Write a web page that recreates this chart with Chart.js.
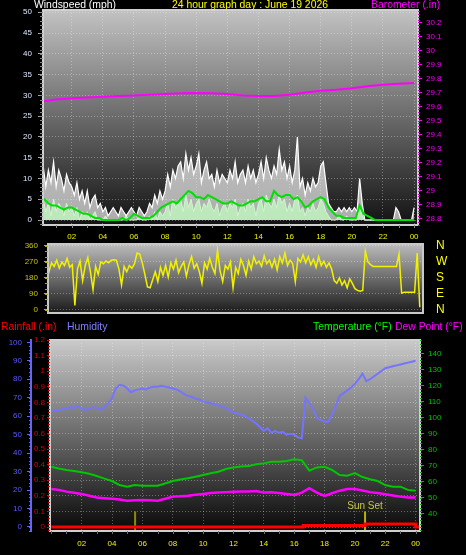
<!DOCTYPE html>
<html>
<head>
<meta charset="utf-8">
<script src="https://cdn.jsdelivr.net/npm/chart.js@4.4.1/dist/chart.umd.min.js"></script>
<style>
    body { margin: 0; background: #000; width: 466px; height: 555px; overflow: hidden; position: relative; font-family: "Liberation Sans", Arial, sans-serif; }
    canvas { position: absolute; left: 0; }
    .hdr { position: absolute; font-size: 10.4px; line-height: 12px; white-space: nowrap; z-index: 2; }
</style>
</head>
<body>
<canvas id="windChart" width="466" height="241" style="top:0"></canvas>
<canvas id="dirChart" width="466" height="80" style="top:240px"></canvas>
<canvas id="climateChart" width="466" height="235" style="top:320px"></canvas>

<div class="hdr" style="left:34px;top:-1px;color:#ffffff">Windspeed (mph)</div>
<div class="hdr" style="left:172px;top:-1px;color:#ffff00">24 hour graph day : June 19 2026</div>
<div class="hdr" style="left:371px;top:-1px;color:#ff00ff">Barometer (.in)</div>
<div class="hdr" style="left:1px;top:321px;color:#ff0000">Rainfall (.in)</div>
<div class="hdr" style="left:67px;top:321px;color:#8080ff">Humidity</div>
<div class="hdr" style="left:313px;top:321px;color:#00ff00">Temperature (°F)</div>
<div class="hdr" style="left:395px;top:321px;color:#ff00ff">Dew Point (°F)</div>

<script>
// tick values
const hourTicks = [2, 4, 6, 8, 10, 12, 14, 16, 18, 20, 22, 24];
const windTicks = [0, 5, 10, 15, 20, 25, 30, 35, 40, 45, 50];
const baroTicks = [28.8, 28.9, 29, 29.1, 29.2, 29.3, 29.4, 29.5, 29.6, 29.7, 29.8, 29.9, 30, 30.1, 30.2];
const dirTicks = [0, 90, 180, 270, 360];
const compassLabels = ["N", "E", "S", "W", "N"];
const humTicks = [0, 10, 20, 30, 40, 50, 60, 70, 80, 90, 100];
const rainTicks = [0, 0.1, 0.2, 0.3, 0.4, 0.5, 0.6, 0.7, 0.8, 0.9, 1, 1.1, 1.2];
const tempTicks = [40, 50, 60, 70, 80, 90, 100, 110, 120, 130, 140];

// wind gust (mph), every 10 minutes from 00:00
const windGust = [
    11, 13, 8, 12, 9, 14,   8, 12, 10, 7, 11, 9,   8, 6, 9, 5, 7, 4,   7, 3, 5, 6, 3, 4,
    2, 3, 1, 2, 3, 2,   1, 3, 2, 1, 2, 3,   2, 1, 3, 2, 1, 2,   4, 3, 6, 4, 7, 5,
    7, 11, 8, 12, 10, 13,   14, 10, 16, 12, 15, 11,   13, 16, 9, 12, 14, 10,   11, 8, 12, 9, 11, 10,
    9, 12, 10, 14, 9, 11,   12, 9, 13, 10, 12, 9,   11, 14, 10, 15, 12, 10,   13, 11, 17, 12, 14, 10,
    13, 9, 12, 20, 8, 10,   6, 9, 7, 10, 8, 9,   13, 14, 9, 4, 3, 2,   2, 3, 2, 3, 2, 3,
    2, 3, 2, 10, 4, 0,   0, 0, 0, 0, 0, 0,   0, 0, 0, 0, 0, 3,   2, 0, 0, 0, 0, 0,
    3
];
// wind speed (mph), every 10 minutes
const windSpeed = [
    3, 5, 2, 4, 1, 5,   2, 4, 3, 1, 4, 2,   3, 1, 3, 0, 2, 1,   2, 0, 1, 2, 0, 0,
    0, 1, 0, 0, 0, 0,   0, 0, 0, 1, 0, 0,   0, 0, 1, 0, 0, 0,   1, 0, 2, 0, 2, 1,
    2, 4, 1, 5, 3, 4,   5, 2, 6, 3, 5, 2,   4, 5, 2, 4, 3, 5,   3, 2, 4, 1, 3, 4,
    2, 4, 3, 5, 1, 3,   4, 2, 5, 3, 4, 1,   4, 5, 2, 6, 4, 3,   5, 3, 6, 4, 5, 2,
    4, 2, 5, 6, 2, 3,   1, 3, 2, 4, 2, 3,   5, 4, 2, 1, 0, 0,   0, 1, 0, 0, 1, 0,
    0, 0, 0, 3, 1, 0,   0, 0, 0, 0, 0, 0,   0, 0, 0, 0, 0, 0,   0, 0, 0, 0, 0, 0,
    0
];
// average wind (mph), every 15 minutes
const windAvg = [
    4.5, 5, 4, 3.5,   3.5, 3, 2.5, 3,   3, 2.5, 2, 1.5,   1.5, 1, 0.5, 0.5,
    0, 0, 0, 0,   0, 0.5, 0, 0.5,   1.5, 1, 0.5, 0.5,   0.5, 1, 2, 3,
    3.5, 4, 4.5, 4,   5, 6, 7, 6.5,   5.5, 5.5, 5, 6,   5.5, 5, 4.5, 4,
    4, 4.5, 4, 3.5,   3.5, 4, 4.5, 4.5,   5, 5.5, 4.5, 4.5,   7, 6, 5.5, 6,
    6, 5, 5.5, 4.5,   3, 3.5, 4.5, 5,   5.5, 5, 3, 2,   1, 1, 0.5, 0.5,
    0.5, 0.5, 3.5, 1.5,   1, 0.5, 0, 0,   0, 0, 0, 0,   0, 0, 0, 0,
    0
];
// barometer (in), hourly
const barometer = [
    29.635, 29.65, 29.66, 29.665, 29.67, 29.675, 29.68, 29.685, 29.69, 29.695, 29.697, 29.695,
    29.69, 29.68, 29.675, 29.675, 29.685, 29.7, 29.713, 29.72, 29.73, 29.745, 29.755, 29.762, 29.768
];
// wind direction (degrees), every 10 minutes
const windDir = [
    240, 225, 250, 215, 265, 245,   280, 235, 270, 250, 290, 240,   255, 25, 230, 275, 165, 250,
    295, 215, 115, 245, 200, 270,   260, 275, 265, 280, 282, 280,   230, 140, 245, 215, 250, 235,
    260, 320, 315, 265, 200, 130,   125, 170, 215, 160, 240, 195,   250, 185, 265, 230, 280, 210,
    245, 270, 190, 255, 300, 235,   260, 215, 150, 265, 230, 290,   240, 205, 335, 220, 160, 250,
    230, 270, 125, 240, 205, 285,   250, 195, 275, 230, 300, 260,   275, 245, 305, 260, 280, 240,
    285, 225, 300, 265, 320, 250,   280, 260, 160, 290, 270, 310,   265, 300, 255, 285, 240, 300,
    250, 275, 240, 265, 230, 165,   150, 180, 140, 165, 125, 175,   150, 120, 110, 105, 110, 330,
    270, 255, 245, 245, 245, 245,   245, 245, 245, 245, 245, 245,   315, 95, 100, 100, 100, 100,
    100, 320, 15
];
// humidity (%), every 15 minutes
const humidity = [
    63, 63.5, 63, 64,   64, 65, 64.5, 65.5,   64, 63.5, 64, 65,   64.5, 63.5, 65, 67,
    70, 75, 77, 76.5,   75, 73, 74, 74.5,   75, 74.5, 75.5, 76,   76, 76.5, 76, 75.5,
    75, 74.5, 73.5, 72,   71, 70.5, 69.5, 69,   68, 67.5, 67, 66.5,   66, 65, 64.5, 63,
    62, 61.5, 61, 60,   59, 57.5, 56, 54,   52, 53.5, 51, 52,   51, 51.5, 50, 50.5,
    50, 48.5, 48, 70,   67, 64, 59, 58,   57, 57, 61, 66,   71, 72.5, 74, 75.5,
    77.5, 80, 83, 79,   80, 81.5, 83, 84.5,   86, 86.5, 87, 87.5,   88, 88.5, 89, 89.5,
    90
];
// temperature and dew point (°F), every 30 minutes
const temperature = [
    69.4, 68.3, 67.4, 66.8, 66, 65, 63.6, 62, 60.5, 58, 57, 58, 57.6, 57.5, 57.6, 59,
    60.5, 61.5, 62.2, 63.2, 64.2, 65.3, 66.3, 68, 69, 69.5, 69.8, 71, 71.5, 72.5, 72.5, 73,
    74, 73.5, 67, 69, 69.4, 67.4, 64.2, 63.8, 65.5, 63, 61.6, 60.5, 58, 57, 57, 55, 54.5
];
const dewPoint = [
    55.5, 55, 53.9, 53.2, 52.5, 51.3, 50.2, 49.8, 49.5, 49, 48.3, 48.5, 48.7, 48.5, 48.3, 49.5,
    50.8, 51, 51.4, 52, 52.5, 53, 53.3, 53.6, 53.9, 54, 54, 54.3, 53.3, 53.5, 53, 52.5,
    51.9, 53.3, 56, 53.3, 51.2, 53, 54.5, 55.5, 55.5, 54.6, 53.6, 53, 52.3, 51.5, 50.8, 50.2, 50.2
];
// rainfall total (in) from each time on
const rainHours = [0, 16.6, 20.67, 24.0, 24.3];
const rainTotals = [0, 0.01, 0.02, 0, 0];

const sunriseHour = 5.52;
const sunsetHour = 20.67;

Chart.defaults.font.family = '"Liberation Sans", Arial, sans-serif';
Chart.defaults.font.size = 8;
Chart.defaults.animation = false;
Chart.defaults.plugins.legend.display = false;
Chart.defaults.plugins.tooltip.enabled = false;
Chart.defaults.elements.point.radius = 0;
Chart.defaults.elements.line.tension = 0;

function series(values, stepHours) {
    return values.map((v, i) => ({ x: i * stepHours, y: v }));
}
function fixedTicks(values) {
    return scale => { scale.ticks = values.map(v => ({ value: v })); };
}
// axis sizes are pinned so the plot areas land where the original has them
function fixedWidth(w) {
    return scale => { scale.width = w; scale.paddingTop = 0; scale.paddingBottom = 0; };
}
function fixedHeight(h) {
    return scale => { scale.height = h; scale.paddingLeft = 0; scale.paddingRight = 0; };
}
const hourLabel = v => String(v % 24).padStart(2, "0");
const oneDecimal = v => String(+v.toFixed(1));
const gridDots = "rgba(255,255,255,0.32)";

// gradient plot background + light frame
const panel = {
    id: "panel",
    beforeDraw(chart, args, opts) {
        const { ctx, chartArea: a } = chart;
        const g = ctx.createLinearGradient(0, a.top, 0, a.bottom);
        g.addColorStop(0, opts.top);
        g.addColorStop(1, opts.bottom);
        ctx.save();
        ctx.fillStyle = g;
        ctx.fillRect(a.left, a.top, a.right - a.left, a.bottom - a.top);
        ctx.restore();
    },
    afterDatasetsDraw(chart, args, opts) {
        const { ctx, chartArea: a } = chart;
        ctx.save();
        ctx.strokeStyle = opts.frame;
        ctx.lineWidth = 2;
        ctx.strokeRect(a.left, a.top, a.right - a.left, a.bottom - a.top);
        ctx.restore();
    }
};

// small in-between tick marks on the axes
const minorTicks = {
    id: "minorTicks",
    afterDraw(chart, args, opts) {
        const ctx = chart.ctx;
        (opts.list || []).forEach(m => {
            const s = chart.scales[m.scale];
            ctx.save();
            ctx.strokeStyle = m.color;
            ctx.lineWidth = 1;
            ctx.beginPath();
            const first = Math.ceil(s.min / m.step);
            const last = Math.floor(s.max / m.step);
            for (let k = first; k <= last; k++) {
                const p = Math.round(s.getPixelForValue(k * m.step)) + 0.5;
                if (s.isHorizontal()) {
                    ctx.moveTo(p, s.top);
                    ctx.lineTo(p, s.top + m.len);
                } else if (s.position === "left") {
                    ctx.moveTo(s.right - m.len, p);
                    ctx.lineTo(s.right, p);
                } else {
                    ctx.moveTo(s.left, p);
                    ctx.lineTo(s.left + m.len, p);
                }
            }
            ctx.stroke();
            ctx.restore();
        });
    }
};

const sunLabel = {
    id: "sunLabel",
    afterDatasetsDraw(chart, args, opts) {
        if (!opts.text) return;
        const ctx = chart.ctx;
        const x = chart.scales.x.getPixelForValue(opts.hour);
        const y = chart.scales.rain.getPixelForValue(opts.at);
        ctx.save();
        ctx.font = '10px "Liberation Sans", Arial, sans-serif';
        ctx.fillStyle = opts.color;
        ctx.textAlign = "center";
        ctx.textBaseline = "bottom";
        ctx.fillText(opts.text, x, y);
        ctx.restore();
    }
};

function hourAxis(min, max, height, padding) {
    return {
        type: "linear",
        min: min,
        max: max,
        afterBuildTicks: fixedTicks(hourTicks),
        afterFit: fixedHeight(height),
        ticks: { color: "#f0f000", padding: padding, maxRotation: 0, autoSkip: false, callback: hourLabel },
        grid: { color: gridDots, drawTicks: false },
        border: { display: false, dash: [1, 2] }
    };
}

new Chart(document.getElementById("windChart"), {
    type: "line",
    data: {
        datasets: [
            { data: series(barometer, 1), yAxisID: "baro", borderColor: "#ff00ff", borderWidth: 2, order: 0 },
            { data: series(windAvg, 0.25), yAxisID: "wind", borderColor: "#00e000", borderWidth: 2, order: 1 },
            { data: series(windSpeed, 1 / 6), yAxisID: "wind", borderColor: "#d0f8d0", borderWidth: 1,
              backgroundColor: "rgba(190,240,190,0.88)", fill: "origin", order: 2 },
            { data: series(windGust, 1 / 6), yAxisID: "wind", borderColor: "#ffffff", borderWidth: 1.2,
              backgroundColor: "rgba(245,245,245,0.68)", fill: "origin", order: 3 }
        ]
    },
    options: {
        responsive: false,
        layout: { padding: { top: 10, left: 0, right: 0, bottom: 0 } },
        scales: {
            x: hourAxis(0.154, 24.25, 16, 7),
            wind: {
                position: "left", min: -1.2, max: 50.55,
                afterBuildTicks: fixedTicks(windTicks), afterFit: fixedWidth(43),
                ticks: { color: "#dde6ff", padding: 6, autoSkip: false },
                grid: { color: gridDots, tickColor: "#a0a0a0", tickLength: 5 },
                border: { display: false, dash: [1, 2] }
            },
            baro: {
                position: "right", min: 28.757, max: 30.288,
                afterBuildTicks: fixedTicks(baroTicks), afterFit: fixedWidth(48),
                ticks: { color: "#f000f0", padding: 4, autoSkip: false, callback: oneDecimal },
                grid: { drawOnChartArea: false, tickColor: "#ff00ff", tickLength: 4 },
                border: { display: false }
            }
        },
        plugins: {
            panel: { top: "#c2c2c2", bottom: "#121212", frame: "#d0d0d0" },
            minorTicks: { list: [
                { scale: "wind", step: 1, len: 3, color: "#8a8a8a" },
                { scale: "baro", step: 0.02, len: 2, color: "#d000d0" },
                { scale: "x", step: 1, len: 3, color: "#8a8a8a" }
            ] }
        }
    },
    plugins: [panel, minorTicks]
});

new Chart(document.getElementById("dirChart"), {
    type: "line",
    data: {
        datasets: [
            { data: series(windDir, 1 / 6), yAxisID: "dir", borderColor: "#f2f200", borderWidth: 1.5 }
        ]
    },
    options: {
        responsive: false,
        layout: { padding: { top: 4, left: 0, right: 0, bottom: 7 } },
        scales: {
            x: { type: "linear", min: 0.44, max: 24.54, display: false },
            dir: {
                position: "left", min: -17, max: 371,
                afterBuildTicks: fixedTicks(dirTicks), afterFit: fixedWidth(48),
                ticks: { color: "#c4c400", padding: 6, autoSkip: false },
                grid: { color: gridDots, tickColor: "#c0c000", tickLength: 4 },
                border: { display: false, dash: [1, 2] }
            },
            compass: {
                position: "right", min: -17, max: 371,
                afterBuildTicks: fixedTicks(dirTicks), afterFit: fixedWidth(43),
                ticks: { color: "#ffff00", padding: 13, autoSkip: false, font: { size: 12 },
                         callback: (v, i) => compassLabels[i] },
                grid: { drawOnChartArea: false, drawTicks: false },
                border: { display: false }
            }
        },
        plugins: {
            panel: { top: "#bcbcbc", bottom: "#1a1a1a", frame: "#c8c8c8" },
            minorTicks: { list: [
                { scale: "dir", step: 30, len: 3, color: "#b0b000" }
            ] }
        }
    },
    plugins: [panel, minorTicks]
});

new Chart(document.getElementById("climateChart"), {
    type: "line",
    data: {
        datasets: [
            { data: series(humidity, 0.25), yAxisID: "hum", borderColor: "#7474ff", borderWidth: 2, order: 1 },
            { data: series(temperature, 0.5), yAxisID: "temp", borderColor: "#00c800", borderWidth: 2, order: 1 },
            { data: series(dewPoint, 0.5), yAxisID: "temp", borderColor: "#ff00ff", borderWidth: 2.5, order: 1 },
            { data: rainHours.map((h, i) => ({ x: h, y: rainTotals[i] })), yAxisID: "rain",
              borderColor: "#ff0000", borderWidth: 3, stepped: true, order: 0 },
            { data: [{ x: sunriseHour, y: -0.03 }, { x: sunriseHour, y: 0.1 }], yAxisID: "rain",
              borderColor: "#8c8c00", borderWidth: 2, order: 2 },
            { data: [{ x: sunsetHour, y: -0.03 }, { x: sunsetHour, y: 0.1 }], yAxisID: "rain",
              borderColor: "#b4b400", borderWidth: 2, order: 2 }
        ]
    },
    options: {
        responsive: false,
        layout: { padding: { top: 20, left: 0, right: 0, bottom: 0 } },
        scales: {
            x: hourAxis(-0.086, 24.29, 24, 8),
            rain: {
                position: "left", weight: 0, min: -0.0256, max: 1.2,
                afterBuildTicks: fixedTicks(rainTicks), afterFit: fixedWidth(19),
                ticks: { color: "#d40000", padding: 2, autoSkip: false, callback: oneDecimal },
                grid: { color: gridDots, tickColor: "#ff0000", tickLength: 3 },
                border: { display: false, dash: [1, 2] }
            },
            hum: {
                position: "left", weight: 1, min: -2.17, max: 101.25,
                afterBuildTicks: fixedTicks(humTicks), afterFit: fixedWidth(31),
                ticks: { color: "#5a5aff", padding: 5, autoSkip: false },
                grid: { drawOnChartArea: false, tickColor: "#6464ff", tickLength: 4 },
                border: { display: true, color: "#6464ff", width: 2 }
            },
            temp: {
                position: "right", min: 29.4, max: 148.3,
                afterBuildTicks: fixedTicks(tempTicks), afterFit: fixedWidth(46),
                ticks: { color: "#00c000", padding: 4, autoSkip: false },
                grid: { drawOnChartArea: false, tickColor: "#00c000", tickLength: 4 },
                border: { display: false }
            }
        },
        plugins: {
            panel: { top: "#cacaca", bottom: "#080808", frame: "#cfcfcf" },
            sunLabel: { text: "Sun Set", hour: sunsetHour, at: 0.1, color: "#c8c840" },
            minorTicks: { list: [
                { scale: "hum", step: 2, len: 2, color: "#6464ff" },
                { scale: "rain", step: 0.02, len: 2, color: "#e00000" },
                { scale: "temp", step: 2, len: 2, color: "#00b000" },
                { scale: "x", step: 1, len: 3, color: "#707070" }
            ] }
        }
    },
    plugins: [panel, minorTicks, sunLabel]
});
</script>
</body>
</html>
